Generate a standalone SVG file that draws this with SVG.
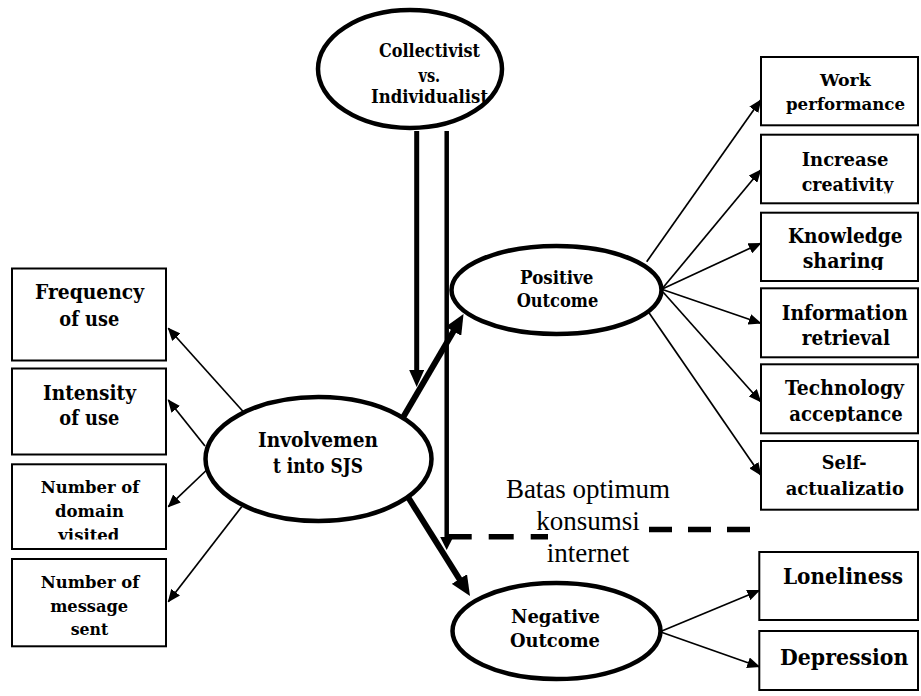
<svg xmlns="http://www.w3.org/2000/svg" width="921" height="696" viewBox="0 0 921 696">
<style>
.ell{fill:#fff;stroke:#000;stroke-width:4.5}
.box{fill:#fff;stroke:#000;stroke-width:2}
.t{font-family:"DejaVu Serif","Liberation Serif",serif;font-weight:bold;text-anchor:middle;fill:#000}
.thin{stroke:#000;stroke-width:1.7;fill:none;marker-end:url(#ah)}
.thick{stroke:#000;stroke-width:6;fill:none;marker-end:url(#ahB)}
.dash{stroke:#000;stroke-width:5.5;fill:none}
.lbl{font-family:"Liberation Serif","Times New Roman",serif;font-size:27px;text-anchor:middle;fill:#000}
</style>
<defs>
<marker id="ah" markerUnits="userSpaceOnUse" markerWidth="13" markerHeight="11" refX="12" refY="5.5" orient="auto"><path d="M0,0 L13,5.5 L0,11 z" fill="#000"/></marker>
<marker id="ahB" markerUnits="userSpaceOnUse" markerWidth="20" markerHeight="18" refX="12" refY="9" orient="auto"><path d="M0,0 L20,9 L0,18 z" fill="#000"/></marker>
<marker id="ahV" markerUnits="userSpaceOnUse" markerWidth="17" markerHeight="15" refX="10" refY="7.5" orient="auto"><path d="M0,0 L17,7.5 L0,15 z" fill="#000"/></marker>
<marker id="ahS" markerUnits="userSpaceOnUse" markerWidth="13" markerHeight="13" refX="7" refY="6.5" orient="auto"><path d="M0,0 L13,6.5 L0,13 z" fill="#000"/></marker>
<clipPath id="cVis"><rect x="0" y="464" width="180" height="75.5"/></clipPath>
<clipPath id="cCre"><rect x="760" y="134" width="161" height="59.3"/></clipPath>
<clipPath id="cSha"><rect x="760" y="212" width="161" height="58"/></clipPath>
<clipPath id="cAcc"><rect x="760" y="364" width="161" height="57.7"/></clipPath>
</defs>

<g id="node-collectivist">
<ellipse class="ell" cx="410" cy="69" rx="92" ry="59"/>
<text class="t" font-size="18" x="429.5" y="56.7" textLength="101" lengthAdjust="spacingAndGlyphs">Collectivist</text>
<text class="t" font-size="18" x="429.3" y="81.7" textLength="21.7" lengthAdjust="spacingAndGlyphs">vs.</text>
<text class="t" font-size="18" x="429.5" y="103" textLength="117" lengthAdjust="spacingAndGlyphs">Individualist</text>
</g>

<g id="node-involvement">
<ellipse class="ell" cx="318.5" cy="459" rx="113" ry="62"/>
<text class="t" font-size="20" x="318" y="446.7" textLength="120" lengthAdjust="spacingAndGlyphs">Involvemen</text>
<text class="t" font-size="20" x="318" y="472.7" textLength="90" lengthAdjust="spacingAndGlyphs">t into SJS</text>
</g>

<g id="node-positive">
<ellipse class="ell" cx="556.5" cy="290" rx="105" ry="44"/>
<text class="t" font-size="18" x="556.7" y="284.3" textLength="73.3" lengthAdjust="spacingAndGlyphs">Positive</text>
<text class="t" font-size="18" x="557.5" y="306.7" textLength="81.7" lengthAdjust="spacingAndGlyphs">Outcome</text>
</g>

<g id="node-negative">
<ellipse class="ell" cx="556.5" cy="631" rx="104" ry="48"/>
<text class="t" font-size="19" x="555.5" y="622.7" textLength="89" lengthAdjust="spacingAndGlyphs">Negative</text>
<text class="t" font-size="19" x="555" y="646.7" textLength="90" lengthAdjust="spacingAndGlyphs">Outcome</text>
</g>

<g id="node-frequency">
<rect class="box" x="12" y="268.5" width="154" height="92"/>
<text class="t" font-size="19.5" x="89.5" y="299" textLength="109" lengthAdjust="spacingAndGlyphs">Frequency</text>
<text class="t" font-size="19.5" x="89.3" y="325.7" textLength="60" lengthAdjust="spacingAndGlyphs">of use</text>
</g>

<g id="node-intensity">
<rect class="box" x="12" y="368.5" width="154" height="86"/>
<text class="t" font-size="19.5" x="89.5" y="400" textLength="93" lengthAdjust="spacingAndGlyphs">Intensity</text>
<text class="t" font-size="19.5" x="89.3" y="425" textLength="60" lengthAdjust="spacingAndGlyphs">of use</text>
</g>

<g id="node-domain">
<rect class="box" x="12" y="464.3" width="154" height="84.7"/>
<text class="t" font-size="17.5" x="90" y="492.7" textLength="98.6" lengthAdjust="spacingAndGlyphs">Number of</text>
<text class="t" font-size="17.5" x="89.5" y="516.7" textLength="69" lengthAdjust="spacingAndGlyphs">domain</text>
<text class="t" font-size="17.5" x="88.8" y="541" textLength="61" lengthAdjust="spacingAndGlyphs" clip-path="url(#cVis)">visited</text>
</g>

<g id="node-message">
<rect class="box" x="12" y="559" width="154" height="87.3"/>
<text class="t" font-size="17.5" x="90" y="587.7" textLength="98.6" lengthAdjust="spacingAndGlyphs">Number of</text>
<text class="t" font-size="17.5" x="89.2" y="611.7" textLength="78" lengthAdjust="spacingAndGlyphs">message</text>
<text class="t" font-size="17.5" x="89.5" y="635" textLength="37.6" lengthAdjust="spacingAndGlyphs">sent</text>
</g>

<g id="node-work">
<rect class="box" x="761" y="57" width="157" height="68.3"/>
<text class="t" font-size="17.5" x="845.3" y="85.7" textLength="50.7" lengthAdjust="spacingAndGlyphs">Work</text>
<text class="t" font-size="17.5" x="845.5" y="110" textLength="119" lengthAdjust="spacingAndGlyphs">performance</text>
</g>

<g id="node-creativity">
<rect class="box" x="761" y="134.7" width="157" height="68.6"/>
<text class="t" font-size="19" x="845" y="166" textLength="86.7" lengthAdjust="spacingAndGlyphs">Increase</text>
<text class="t" font-size="19" x="847.5" y="190.5" textLength="91.7" lengthAdjust="spacingAndGlyphs" clip-path="url(#cCre)">creativity</text>
</g>

<g id="node-knowledge">
<rect class="box" x="761" y="212.7" width="157" height="68.3"/>
<text class="t" font-size="19.5" x="845.3" y="242.7" textLength="114.7" lengthAdjust="spacingAndGlyphs">Knowledge</text>
<text class="t" font-size="19.5" x="843.3" y="268.3" textLength="81.3" lengthAdjust="spacingAndGlyphs" clip-path="url(#cSha)">sharing</text>
</g>

<g id="node-information">
<rect class="box" x="761" y="288.3" width="157" height="69"/>
<text class="t" font-size="19.5" x="844.7" y="320" textLength="126" lengthAdjust="spacingAndGlyphs">Information</text>
<text class="t" font-size="19.5" x="845.8" y="345" textLength="88.3" lengthAdjust="spacingAndGlyphs">retrieval</text>
</g>

<g id="node-technology">
<rect class="box" x="761" y="364.3" width="157" height="69"/>
<text class="t" font-size="19.5" x="844.5" y="395" textLength="119" lengthAdjust="spacingAndGlyphs">Technology</text>
<text class="t" font-size="19.5" x="846" y="420.5" textLength="113.3" lengthAdjust="spacingAndGlyphs" clip-path="url(#cAcc)">acceptance</text>
</g>

<g id="node-self">
<rect class="box" x="761" y="441" width="157" height="68.7"/>
<text class="t" font-size="19" x="844.2" y="469.3" textLength="45" lengthAdjust="spacingAndGlyphs">Self-</text>
<text class="t" font-size="19" x="844.8" y="495" textLength="118.3" lengthAdjust="spacingAndGlyphs">actualizatio</text>
</g>

<g id="node-loneliness">
<rect class="box" x="759.3" y="552" width="158.7" height="68"/>
<text class="t" font-size="22" x="843" y="584.3" textLength="120" lengthAdjust="spacingAndGlyphs">Loneliness</text>
</g>

<g id="node-depression">
<rect class="box" x="759.3" y="631" width="158.7" height="59"/>
<text class="t" font-size="22" x="844.2" y="665" textLength="128.3" lengthAdjust="spacingAndGlyphs">Depression</text>
</g>

<g id="label-batas">
<text class="lbl" x="588" y="498">Batas optimum</text>
<text class="lbl" x="588" y="530">konsumsi</text>
<text class="lbl" x="588" y="561.7">internet</text>
</g>

<g id="connectors">
<line class="thin" x1="243.3" y1="411.7" x2="168.3" y2="328.3"/>
<line class="thin" x1="205" y1="446" x2="168.3" y2="400"/>
<line class="thin" x1="206.7" y1="470" x2="168.3" y2="506.7"/>
<line class="thin" x1="241.7" y1="506.7" x2="168.3" y2="601.7"/>
<line class="thin" x1="646.7" y1="261.7" x2="760.7" y2="100"/>
<line class="thin" x1="661.7" y1="289.3" x2="760.7" y2="170"/>
<line class="thin" x1="661.7" y1="289.3" x2="760.7" y2="243.3"/>
<line class="thin" x1="661.7" y1="289.3" x2="760.7" y2="323.3"/>
<line class="thin" x1="663" y1="292" x2="760.7" y2="401.7"/>
<line class="thin" x1="648.3" y1="311.7" x2="760.7" y2="475"/>
<line class="thin" x1="660" y1="631.7" x2="759.3" y2="590.5"/>
<line class="thin" x1="660" y1="631.7" x2="759.3" y2="666.7"/>
<line class="thick" x1="403.3" y1="417" x2="459.5" y2="320.9"/>
<line class="thick" x1="408.3" y1="497.5" x2="465.75" y2="589.2"/>
<line x1="416.7" y1="131" x2="416.7" y2="380" stroke="#000" stroke-width="5" marker-end="url(#ahV)"/>
<line x1="446.7" y1="131" x2="446.7" y2="544" stroke="#000" stroke-width="4.5" marker-end="url(#ahS)"/>
<path class="dash" d="M446.7,536.7 H548" stroke-dasharray="25 17"/>
<path class="dash" d="M649,529.5 H750" stroke-dasharray="23 16"/>
</g>
</svg>
